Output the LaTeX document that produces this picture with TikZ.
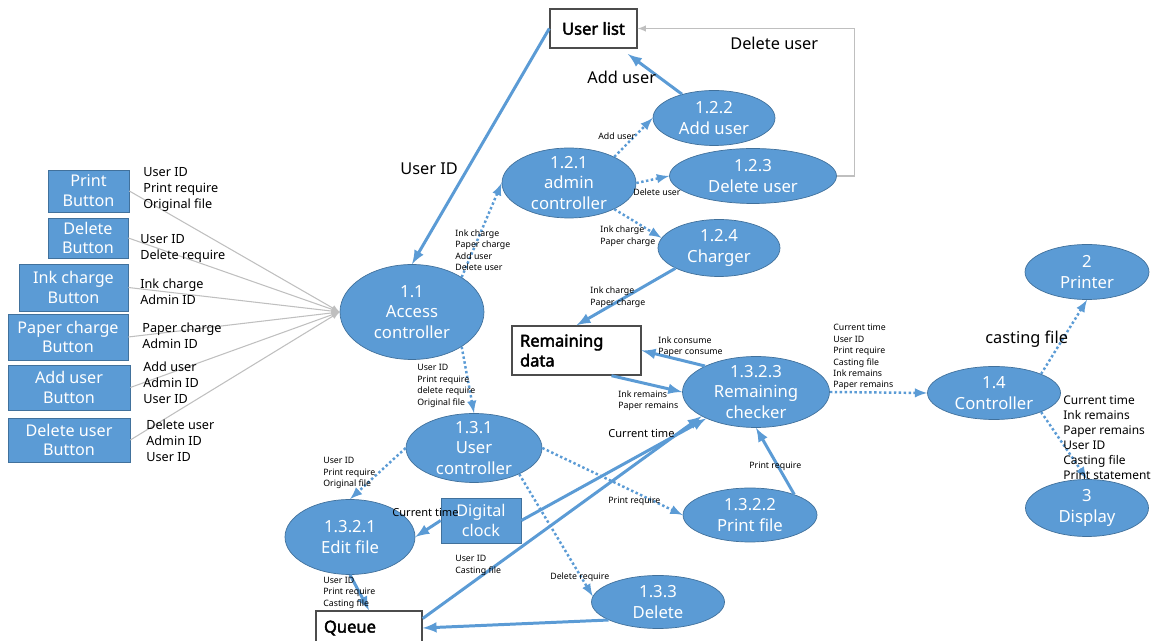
\documentclass[tikz,border=0pt]{standalone}
\usepackage{fontspec}
\setmainfont{Noto Sans}[AutoFakeBold=2.5]
\usetikzlibrary{shapes.geometric}
\definecolor{procblue}{HTML}{5B9BD5}
\definecolor{procedge}{HTML}{41719C}
\definecolor{wiregray}{HTML}{BFBFBF}

\begin{document}
\begin{tikzpicture}[x=0.02cm,y=-0.02cm,>=latex,
proc/.style={ellipse,fill=procblue,draw=procedge,thin,text=white,align=center,inner xsep=0,inner ysep=-0.15cm,font=\fontsize{9.5}{11.6}\selectfont},
btn/.style={rectangle,fill=procblue,draw=procedge,thin,text=white,align=center,inner sep=0,font=\fontsize{9.2}{11.3}\selectfont},
store/.style={rectangle,draw=gray!60!black,fill=white,line width=0.8pt,font=\fontsize{9.4}{11.3}\selectfont\bfseries},
flow/.style={->,procblue,line width=1.7pt},
dflow/.style={->,procblue,line width=1.4pt,dash pattern=on 1.4pt off 1.4pt},
wire/.style={->,wiregray,line width=0.6pt},
note/.style={anchor=north west,inner sep=0,align=left,font=\fontsize{5}{6.6}\selectfont},
midnote/.style={anchor=north west,inner sep=0,font=\fontsize{6.3}{7.5}\selectfont},
blabel/.style={anchor=north west,inner sep=0,align=left,font=\fontsize{7.2}{9}\selectfont},
bignote/.style={anchor=north west,inner sep=0,font=\fontsize{9.3}{11}\selectfont}]
\useasboundingbox (0,0) rectangle (1154,641);
\node [proc, minimum width=2.88cm, minimum height=1.9cm] (p11) at (412,312) {1.1\\Access\\controller};
\node [proc, minimum width=2.68cm, minimum height=1.4cm] (p121) at (569,183) {1.2.1\\admin\\controller};
\node [proc, minimum width=2.44cm, minimum height=1.1cm] (p122) at (714,118) {1.2.2\\Add user};
\node [proc, minimum width=3.34cm, minimum height=1.1cm] (p123) at (753,176) {1.2.3\\Delete user};
\node [proc, minimum width=2.44cm, minimum height=1.14cm] (p124) at (719,248) {1.2.4\\Charger};
\node [proc, minimum width=2.72cm, minimum height=1.38cm] (p131) at (474,448) {1.3.1\\User\\controller};
\node [proc, minimum width=2.6cm, minimum height=1.5cm] (p1321) at (350,537) {1.3.2.1\\Edit file};
\node [proc, minimum width=2.68cm, minimum height=1.08cm] (p1322) at (750,515) {1.3.2.2\\Print file};
\node [proc, minimum width=2.94cm, minimum height=1.42cm] (p1323) at (756,392) {1.3.2.3\\Remaining\\checker};
\node [proc, minimum width=2.66cm, minimum height=1.06cm] (p133) at (658,602) {1.3.3\\Delete};
\node [proc, minimum width=2.66cm, minimum height=1.06cm] (p14) at (994,393) {1.4\\Controller};
\node [proc, minimum width=2.48cm, minimum height=1.1cm] (p2) at (1087,272) {2\\Printer};
\node [proc, minimum width=2.46cm, minimum height=1.14cm] (p3) at (1087,508) {3\\Display};
\node [btn, minimum width=1.62cm, minimum height=0.84cm] (b1) at (88.5,191) {Print\\Button};
\node [btn, minimum width=1.6cm, minimum height=0.8cm] (b2) at (88,238) {Delete\\Button};
\node [btn, minimum width=2.18cm, minimum height=0.94cm] (b3) at (73.5,287.5) {Ink charge\\Button};
\node [btn, minimum width=2.4cm, minimum height=0.92cm] (b4) at (68,337) {Paper charge\\Button};
\node [btn, minimum width=2.44cm, minimum height=0.9cm] (b5) at (69,387.5) {Add user\\Button};
\node [btn, minimum width=2.44cm, minimum height=0.88cm] (b6) at (69,440) {Delete user\\Button};
\node [btn, minimum width=1.6cm, minimum height=0.9cm] (dc) at (481,520.5) {Digital\\clock};
\node [store, minimum width=1.74cm, minimum height=0.78cm] (ul) at (593.5,28.5) {User list};
\node [store, minimum height=0.98cm, text width=2.26cm, inner xsep=0.16cm, align=left] (rd) at (576.5,350.5) {Remaining\\data};
\node [store, minimum height=0.68cm, text width=1.8cm, inner xsep=0.16cm, align=left] (q) at (369,628) {Queue};
\draw [wire] (b1.east) -- (p11.west);
\draw [wire] (b2.east) -- (p11.west);
\draw [wire] (b3.east) -- (p11.west);
\draw [wire] (b4.east) -- (p11.west);
\draw [wire] (b5.east) -- (p11.west);
\draw [wire] (b6.east) -- (p11.west);
\draw [wire] (p123.east) -- ++(18,0) |- (ul.east);
\draw [flow] (ul.west) -- (p11.north);
\draw [flow, shorten >=0.18cm] (p122) -- (ul);
\draw [flow] (p124.205) -- (rd.north);
\draw [flow] (p1323.153) -- (rd.east);
\draw [flow] ([xshift=0.7cm]rd.south) -- (p1323.west);
\draw [flow] (dc.west) -- (p1321.east);
\draw [flow] (dc.east) -- (p1323.208);
\draw [flow] (q.10) -- (p1323.204);
\draw [flow] (p1322.25) -- (p1323.south);
\draw [flow] (p1321.south) -- (q.north);
\draw [flow] (p133.200) -- (q.east);
\draw [dflow] (p11.35) -- (p121.west);
\draw [dflow] (p121.30) -- (p122.west);
\draw [dflow] (p121.east) -- (p123.west);
\draw [dflow] (p121.330) -- (p124.170);
\draw [dflow] (p11.325) -- (p131.north);
\draw [dflow] (p131.west) -- (p1321.north);
\draw [dflow] (p131.east) -- (p1322.west);
\draw [dflow] (p131.330) -- (p133.175);
\draw [dflow] (p1323.east) -- (p14.west);
\draw [dflow] (p14.22) -- (p2.south);
\draw [dflow] (p14.338) -- (p3.north);
\node [blabel] (u1) at (143,167) {User ID\\Print require\\Original file};
\node [blabel] (u2) at (140,234.5) {User ID\\Delete require};
\node [blabel] (u3) at (140,279) {Ink charge\\Admin ID};
\node [blabel] (u4) at (142,322.5) {Paper charge\\Admin ID};
\node [blabel] (u5) at (143,362) {Add user\\Admin ID\\User ID};
\node [blabel] (u6) at (146,420) {Delete user\\Admin ID\\User ID};
\node [blabel, font=\fontsize{6.8}{8.5}\selectfont] (u7) at (1063,395.5) {Current time\\Ink remains\\Paper remains\\User ID\\Casting file\\Print statement};
\node [note] (t1) at (455,229) {Ink charge\\Paper charge\\Add user\\Delete user};
\node [note] (t2) at (598,132.5) {Add user};
\node [note] (t3) at (633,188.5) {Delete user};
\node [note] (t4) at (600,225.5) {Ink charge\\Paper charge};
\node [note] (t5) at (590,286.5) {Ink charge\\Paper charge};
\node [note] (t6) at (658,336) {Ink consume\\Paper consume};
\node [note] (t7) at (618,390) {Ink remains\\Paper remains};
\node [note, font=\fontsize{5}{6.5}\selectfont] (t8) at (833,324) {Current time\\User ID\\Print require\\Casting file\\Ink remains\\Paper remains};
\node [note] (t9) at (417,364) {User ID\\Print require\\delete require\\Original file};
\node [note] (t10) at (323,457) {User ID\\Print require\\Original file};
\node [note] (t11) at (608,496.5) {Print require};
\node [note] (t12) at (749,461.5) {Print require};
\node [note] (t13) at (455,555) {User ID\\Casting file};
\node [note] (t14) at (550,572.5) {Delete require};
\node [note] (t15) at (323,576.5) {User ID\\Print require\\Casting file};
\node [midnote] (t16) at (392,508) {Current time};
\node [midnote] (t17) at (608,429) {Current time};
\node [bignote] (v1) at (400,162) {User ID};
\node [bignote] (v2) at (587,71) {Add user};
\node [bignote] (v3) at (730,37) {Delete user};
\node [bignote] (v4) at (985,331) {casting file};
\end{tikzpicture}
\end{document}
